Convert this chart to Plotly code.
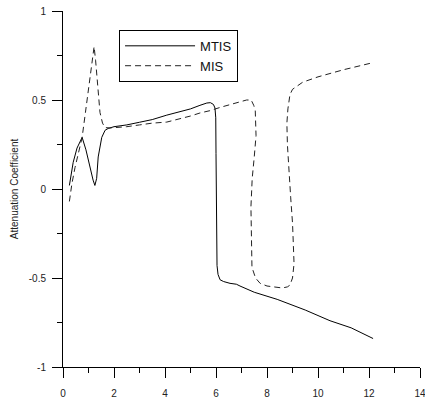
import plotly.graph_objects as go

mtis_x = [0.25, 0.4, 0.55, 0.75, 0.9, 1.06, 1.18, 1.25, 1.32, 1.38, 1.52, 1.65, 1.77, 2.0, 2.5, 3.0, 3.5, 4.07, 4.5, 5.0, 5.37, 5.64, 5.78, 5.9, 5.96, 5.99, 6.0, 6.01, 6.02, 6.04, 6.08, 6.16, 6.3, 6.55, 6.8, 6.94, 7.5, 8.4, 9.5, 10.47, 11.3, 12.16]
mtis_y = [0.02, 0.15, 0.23, 0.29, 0.22, 0.12, 0.05, 0.02, 0.06, 0.18, 0.29, 0.33, 0.34, 0.35, 0.36, 0.375, 0.39, 0.415, 0.43, 0.45, 0.47, 0.483, 0.485, 0.475, 0.455, 0.4, 0.2, 0.0, -0.3, -0.43, -0.48, -0.51, -0.52, -0.53, -0.535, -0.545, -0.58, -0.62, -0.68, -0.74, -0.78, -0.84]

mis_x = [0.25, 0.35, 0.47, 0.6, 0.75, 0.88, 0.98, 1.1, 1.22, 1.28, 1.33, 1.45, 1.55, 1.65, 1.84, 2.5, 3.0, 3.5, 4.07, 4.5, 5.0, 5.37, 5.76, 6.2, 6.7, 7.2, 7.38, 7.48, 7.54, 7.57, 7.5, 7.42, 7.37, 7.38, 7.41, 7.55, 7.73, 8.0, 8.2, 8.6, 8.8, 8.9, 9.0, 9.06, 9.03, 9.0, 8.93, 8.87, 8.8, 8.78, 8.82, 8.9, 9.0, 9.1, 9.4, 10.0, 11.0, 12.16]
mis_y = [-0.07, 0.03, 0.12, 0.2, 0.29, 0.43, 0.54, 0.68, 0.80, 0.72, 0.63, 0.43, 0.37, 0.345, 0.343, 0.35, 0.36, 0.37, 0.376, 0.39, 0.41, 0.427, 0.44, 0.46, 0.48, 0.50, 0.50, 0.47, 0.44, 0.3, 0.18, 0.06, -0.1, -0.3, -0.44, -0.5, -0.53, -0.545, -0.55, -0.556, -0.55, -0.54, -0.5, -0.42, -0.3, -0.19, -0.05, 0.09, 0.25, 0.37, 0.45, 0.53, 0.56, 0.57, 0.60, 0.63, 0.67, 0.71]

x_ticks = [0, 2, 4, 6, 8, 10, 12, 14]
y_ticks = [-1, -0.5, 0, 0.5, 1]
y_tick_text = ["-1", "-0.5", "0", "0.5", "1"]

fig = go.Figure()
fig.add_trace(go.Scatter(x=mtis_x, y=mtis_y, mode="lines", name="MTIS",
                         line=dict(color="black", width=1)))
fig.add_trace(go.Scatter(x=mis_x, y=mis_y, mode="lines", name="MIS",
                         line=dict(color="#222", width=1, dash="6px,4px")))

font = dict(family="Liberation Sans, Arial, sans-serif", size=10, color="#222")

fig.update_layout(
    width=425, height=401,
    margin=dict(l=63, r=5, t=11, b=34),
    paper_bgcolor="white", plot_bgcolor="white",
    font=font,
    showlegend=True,
    legend=dict(x=0.157, y=0.947, xanchor="left", yanchor="top",
                bordercolor="black", borderwidth=1, bgcolor="white",
                font=dict(family="Liberation Sans, Arial, sans-serif", size=13, color="#111"),
                itemwidth=70, tracegroupgap=0),
    xaxis=dict(range=[0, 14], tickvals=x_ticks, ticks="outside", ticklen=10,
               tickcolor="black", showline=True, linecolor="black", linewidth=1,
               showgrid=False, zeroline=False, tickfont=font, automargin=False,
               ticklabeloverflow="allow", ticklabelstandoff=7,
               minor=dict(dtick=1, ticks="outside", ticklen=5, tickcolor="black")),
    yaxis=dict(range=[-1, 1], tickvals=y_ticks, ticktext=y_tick_text, ticks="outside",
               ticklen=10, tickcolor="black", showline=True, linecolor="black", linewidth=1,
               showgrid=False, zeroline=False, tickfont=font, ticklabelstandoff=4,
               automargin=False,
               minor=dict(dtick=0.25, ticks="outside", ticklen=5, tickcolor="black"),
               title=dict(text="Attenuation Coefficient", font=font, standoff=8)),
)

fig.write_html("out.html")
